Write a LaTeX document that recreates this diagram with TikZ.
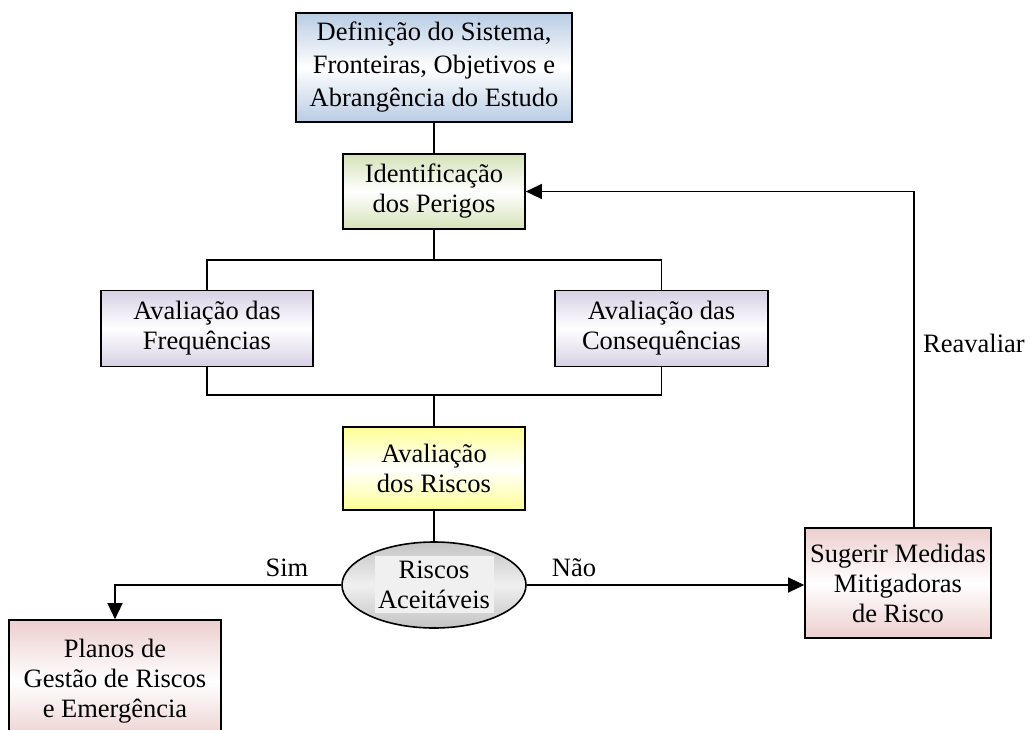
\documentclass[tikz,border=0pt]{standalone}
\usepackage{fontspec}
\setmainfont{Liberation Serif}
\usetikzlibrary{shapes.geometric,arrows.meta}
\definecolor{cblue}{RGB}{184,204,228}
\definecolor{cgreen}{RGB}{212,226,184}
\definecolor{clav}{RGB}{214,208,228}
\definecolor{cyel}{RGB}{255,255,150}
\definecolor{cpink}{RGB}{236,206,206}
\definecolor{cgray}{RGB}{196,196,196}
\tikzset{
  box/.style={draw=black, line width=1.6pt, rectangle, inner sep=0pt, align=center,
    font=\fontsize{26.5}{30}\selectfont},
  shade/.style={top color=#1, bottom color=#1, middle color=white},
  conn/.style={line width=1.3pt},
  arr/.style={line width=1.3pt, -{Triangle[length=16pt,width=15pt]}},
  lbl/.style={font=\fontsize{26.5}{30}\selectfont, inner sep=0pt}
}
\begin{document}
\begin{tikzpicture}[x=1pt,y=-1pt]
\clip (0,0) rectangle (1029,729);
\fill[white] (0,0) rectangle (1029,729);
\node[box, shade=cblue, minimum width=276, minimum height=109, font=\fontsize{26.5}{33}\selectfont] (def) at (434,67.5)
  {Definição do Sistema,\\Fronteiras, Objetivos e\\Abrangência do Estudo};
\node[box, shade=cgreen, minimum width=182, minimum height=75] (ident) at (434,191.5)
  {Identificação\\dos Perigos};
\node[box, shade=clav, minimum width=212, minimum height=76] (freq) at (207,328.5)
  {Avaliação das\\Frequências};
\node[box, shade=clav, minimum width=213, minimum height=76] (cons) at (661.5,328.5)
  {Avaliação das\\Consequências};
\node[box, shade=cyel, minimum width=182, minimum height=83] (aval) at (434,468.5)
  {Avaliação\\dos Riscos};
\node[ellipse, draw=black, line width=1.6pt, shade=cgray, middle color=gray!12,
  minimum width=184, minimum height=86, inner sep=0pt] (ell) at (434,585) {};
\fill[gray!12] (375,556) rectangle (494,613);
\node[lbl, align=center] (elltxt) at (434,585) {Riscos\\Aceitáveis};
\node[box, shade=cpink, minimum width=212, minimum height=122] (plan) at (115,681)
  {Planos de\\Gestão de Riscos\\e Emergência};
\node[box, shade=cpink, minimum width=186, minimum height=110] (sug) at (898,583)
  {Sugerir Medidas\\Mitigadoras\\de Risco};
% connectors
\coordinate (split) at (434,260);
\coordinate (join) at (434,395);
\draw[conn] (def.south) -- (ident.north);
\draw[conn] (ident.south) -- (split);
\draw[conn] (freq.north) |- (split) -| (cons.north);
\draw[conn] (freq.south) |- (join) -| (cons.south);
\draw[conn] (join) -- (aval.north);
\draw[conn] (aval.south) -- (ell.north);
\draw[arr] (ell.west) -| (plan.north);
\draw[arr] (ell.east) -- (ell.east -| sug.west);
\draw[arr] ([xshift=16pt]sug.north) |- (ident.east);
% labels
\node[lbl] (sim) at (287,568) {Sim};
\node[lbl] (nao) at (574,568) {Não};
\node[lbl] (reav) at (974,343) {Reavaliar};
\end{tikzpicture}
\end{document}
